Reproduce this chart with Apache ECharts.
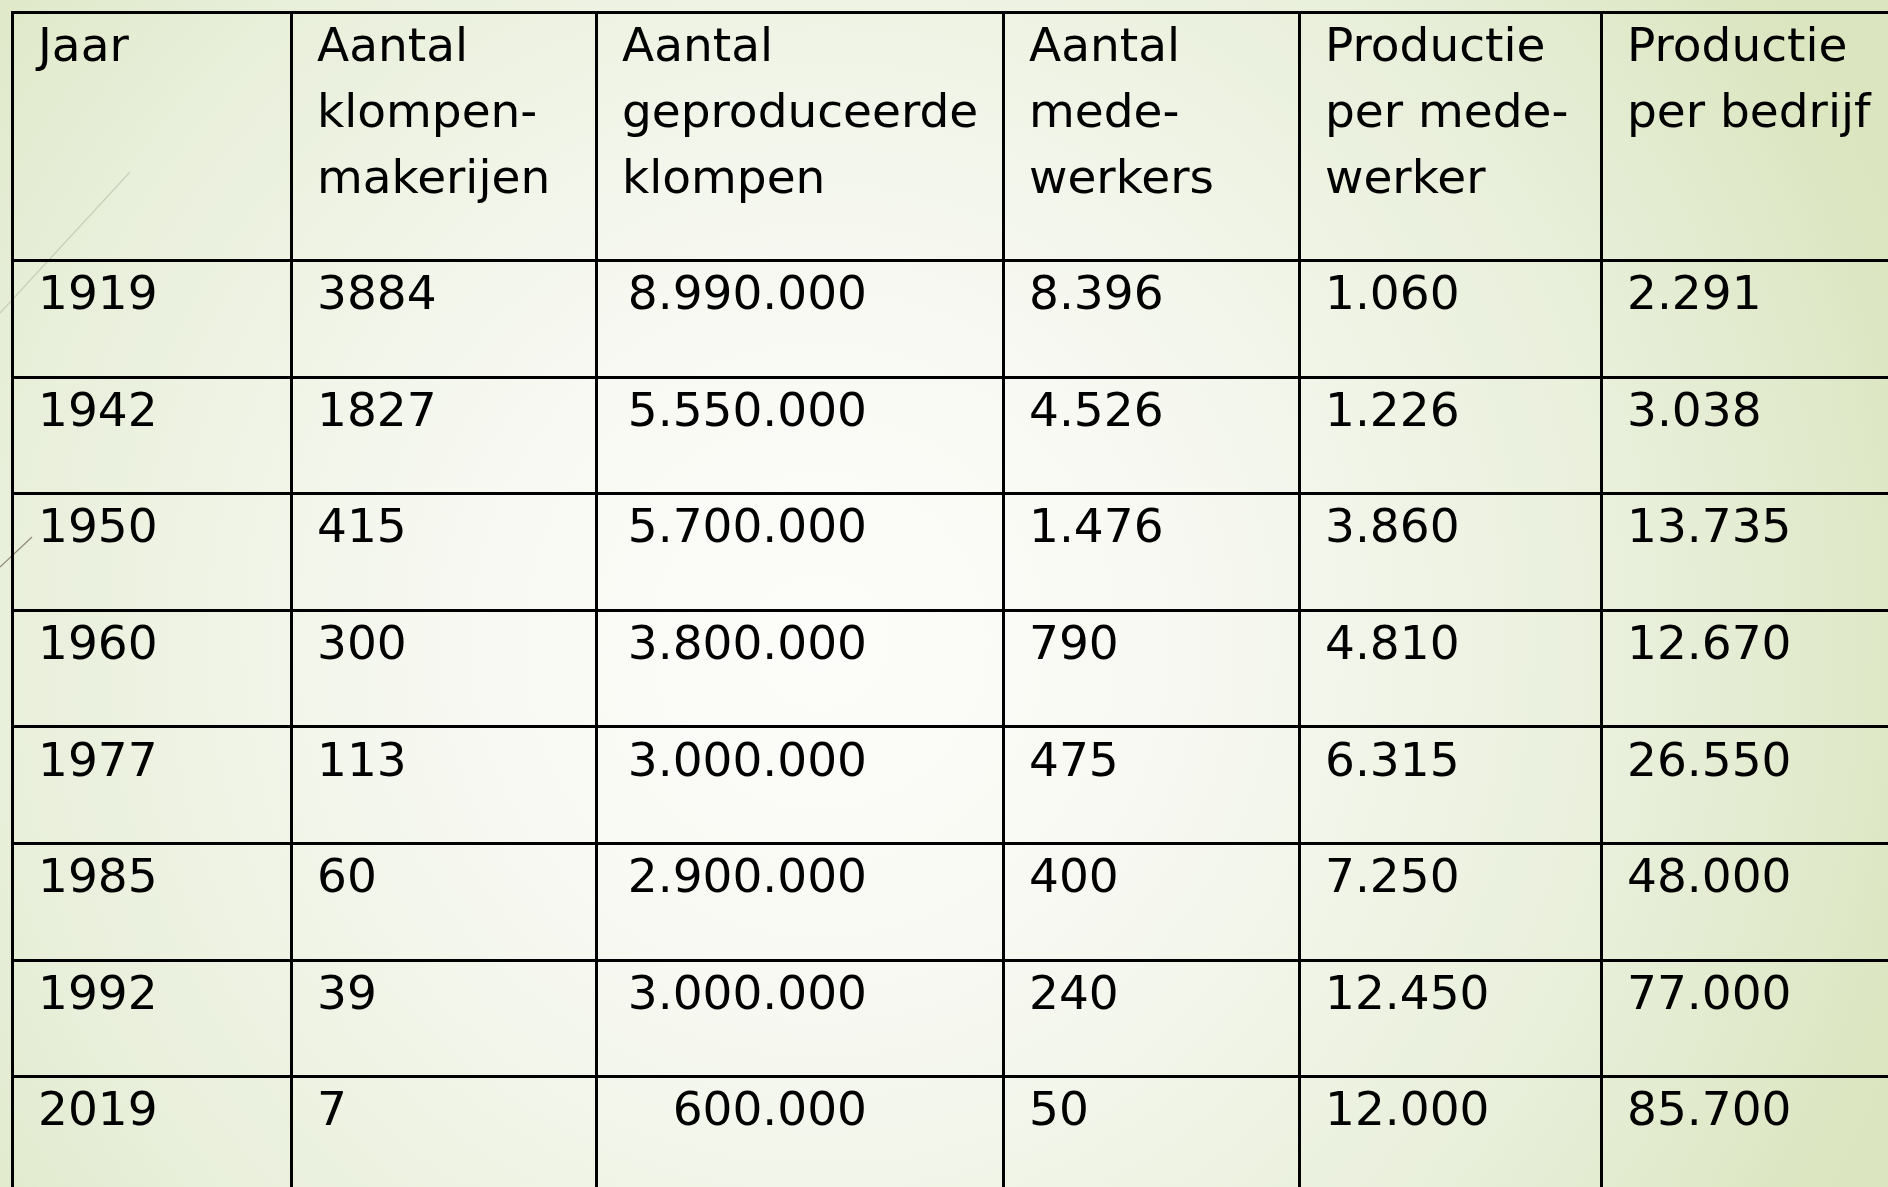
<!DOCTYPE html>
<html>
<head>
<meta charset="utf-8">
<title>Klompenmakerijen</title>
<script src="https://cdn.jsdelivr.net/npm/echarts@6/dist/echarts.min.js"></script>
<style>
  html, body { margin: 0; padding: 0; }
  #main { width: 1888px; height: 1187px; }
</style>
</head>
<body>
<div id="main"></div>
<script>
// tabel gegevens
var kolomKoppen = ['Jaar', 'Aantal\nklompen-\nmakerijen', 'Aantal\ngeproduceerde\nklompen',
                   'Aantal\nmede-\nwerkers', 'Productie\nper mede-\nwerker', 'Productie\nper bedrijf'];
var jaren = ['1919', '1942', '1950', '1960', '1977', '1985', '1992', '2019'];
var makerijen = [3884, 1827, 415, 300, 113, 60, 39, 7];
var klompen = [8990000, 5550000, 5700000, 3800000, 3000000, 2900000, 3000000, 600000];
var medewerkers = [8396, 4526, 1476, 790, 475, 400, 240, 50];
var perMedewerker = [1060, 1226, 3860, 4810, 6315, 7250, 12450, 12000];
var perBedrijf = [2291, 3038, 13735, 12670, 26550, 48000, 77000, 85700];

// opmaak (pixels binnen de grid)
var colEdges = [0, 279, 584, 991, 1287, 1589, 1890];
var HEADER_H = 248;
var ROW_H = 116.6;
var FONT = '47px "DejaVu Sans", Verdana, sans-serif';

function punten(n) {
  return String(n).replace(/\B(?=(\d{3})+(?!\d))/g, '.');
}

var cells = [];
for (var c = 0; c < kolomKoppen.length; c++) {
  cells.push({ col: c, row: -1, text: kolomKoppen[c] });
}
for (var r = 0; r < jaren.length; r++) {
  cells.push({ col: 0, row: r, text: jaren[r] });
  cells.push({ col: 1, row: r, text: String(makerijen[r]) });
  cells.push({ col: 2, row: r, text: punten(klompen[r]), right: true });
  cells.push({ col: 3, row: r, text: punten(medewerkers[r]) });
  cells.push({ col: 4, row: r, text: punten(perMedewerker[r]) });
  cells.push({ col: 5, row: r, text: punten(perBedrijf[r]) });
}

var seriesData = cells.map(function (d) { return [d.col, d.row]; });

function crisp(v) {
  return Math.round(v) + 0.5;
}

function renderCell(params, api) {
  var d = cells[params.dataIndex];
  var y0 = d.row < 0 ? 0 : HEADER_H + d.row * ROW_H;
  var y1 = d.row < 0 ? HEADER_H : y0 + ROW_H;
  var p0 = api.coord([colEdges[d.col], y0]);
  var p1 = api.coord([colEdges[d.col + 1], y1]);
  var x0 = crisp(p0[0]), x1 = crisp(p1[0]);
  var t0 = crisp(p0[1]), t1 = crisp(p1[1]);
  return {
    type: 'group',
    children: [
      {
        type: 'rect',
        shape: { x: x0, y: t0, width: x1 - x0, height: t1 - t0 },
        style: { fill: 'none', stroke: '#000', lineWidth: 3 }
      },
      {
        type: 'text',
        style: {
          text: d.text,
          x: d.right ? p0[0] + 271 : p0[0] + 26,
          y: p0[1] + 4,
          font: FONT,
          fill: '#000',
          textAlign: d.right ? 'right' : 'left',
          textVerticalAlign: 'top',
          lineHeight: 66
        }
      }
    ]
  };
}

var myChart = echarts.init(document.getElementById('main'));

var option = {
  animation: false,
  graphic: [
    {
      type: 'rect',
      z: -10,
      shape: { x: 0, y: 0, width: 1888, height: 1187 },
      style: {
        fill: new echarts.graphic.RadialGradient(820, 640, 1150, [
          { offset: 0, color: '#fdfdfb' },
          { offset: 0.35, color: '#f6f8f0' },
          { offset: 0.75, color: '#e7eed8' },
          { offset: 1, color: '#dbe5bf' }
        ], true)
      }
    },
    {
      type: 'line',
      z: -5,
      shape: { x1: 0, y1: 313, x2: 130, y2: 172 },
      style: { stroke: '#c9cebb', lineWidth: 1.2 }
    },
    {
      type: 'line',
      z: -5,
      shape: { x1: 0, y1: 567, x2: 32, y2: 537 },
      style: { stroke: '#8d8a78', lineWidth: 1.2 }
    }
  ],
  grid: { left: 12, top: 12, right: 0, bottom: 0 },
  xAxis: {
    type: 'value', min: 0, max: 1876, show: false,
    splitLine: { show: false }
  },
  yAxis: {
    type: 'value', min: 0, max: 1175, inverse: true, show: false,
    splitLine: { show: false }
  },
  series: [
    {
      type: 'custom',
      clip: false,
      renderItem: renderCell,
      data: seriesData
    }
  ]
};

myChart.setOption(option);
</script>
</body>
</html>
